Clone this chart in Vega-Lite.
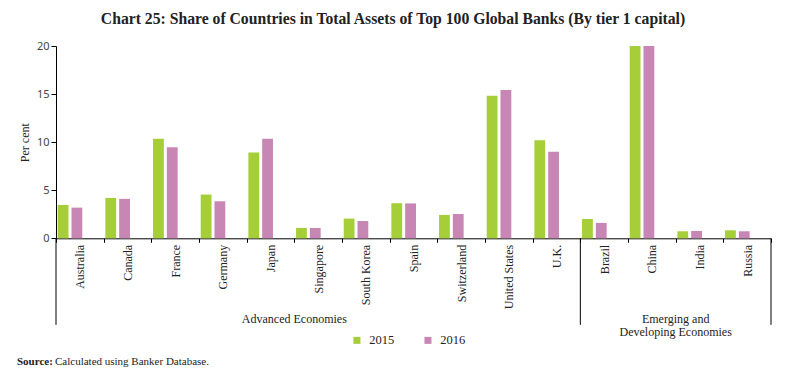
{
  "$schema": "https://vega.github.io/schema/vega-lite/v6.json",
  "width": 774,
  "height": 374,
  "autosize": {"type": "none"},
  "padding": {"left": 6, "top": 5, "right": 1, "bottom": 1},
  "background": "white",
  "config": {
    "view": {"stroke": null},
    "font": "Liberation Serif"
  },
  "title": {
    "text": "Chart 25: Share of Countries in Total Assets of Top 100 Global Banks (By tier 1 capital)",
    "font": "Liberation Serif",
    "fontSize": 15.7,
    "fontWeight": "bold",
    "color": "#222",
    "anchor": "middle",
    "offset": -23
  },
  "layer": [
    {
      "data": {
        "values": [
          {"country": "Australia", "year": "2015", "value": 3.47},
          {"country": "Australia", "year": "2016", "value": 3.19},
          {"country": "Canada", "year": "2015", "value": 4.2},
          {"country": "Canada", "year": "2016", "value": 4.1},
          {"country": "France", "year": "2015", "value": 10.35},
          {"country": "France", "year": "2016", "value": 9.48},
          {"country": "Germany", "year": "2015", "value": 4.55},
          {"country": "Germany", "year": "2016", "value": 3.85},
          {"country": "Japan", "year": "2015", "value": 8.92},
          {"country": "Japan", "year": "2016", "value": 10.35},
          {"country": "Singapore", "year": "2015", "value": 1.08},
          {"country": "Singapore", "year": "2016", "value": 1.08},
          {"country": "South Korea", "year": "2015", "value": 2.05},
          {"country": "South Korea", "year": "2016", "value": 1.8},
          {"country": "Spain", "year": "2015", "value": 3.65},
          {"country": "Spain", "year": "2016", "value": 3.63},
          {"country": "Switzerland", "year": "2015", "value": 2.43},
          {"country": "Switzerland", "year": "2016", "value": 2.53},
          {"country": "United States", "year": "2015", "value": 14.83},
          {"country": "United States", "year": "2016", "value": 15.42},
          {"country": "U.K.", "year": "2015", "value": 10.2},
          {"country": "U.K.", "year": "2016", "value": 9.0},
          {"country": "Brazil", "year": "2015", "value": 2.01},
          {"country": "Brazil", "year": "2016", "value": 1.6},
          {"country": "China", "year": "2015", "value": 20.0},
          {"country": "China", "year": "2016", "value": 20.0},
          {"country": "India", "year": "2015", "value": 0.73},
          {"country": "India", "year": "2016", "value": 0.76},
          {"country": "Russia", "year": "2015", "value": 0.83},
          {"country": "Russia", "year": "2016", "value": 0.73}
        ]
      },
      "mark": {"type": "bar"},
      "encoding": {
        "x": {
          "field": "country",
          "type": "nominal",
          "title": null,
          "scale": {
            "domain": ["Australia", "Canada", "France", "Germany", "Japan", "Singapore", "South Korea", "Spain", "Switzerland", "United States", "U.K.", "Brazil", "China", "India", "Russia"],
            "range": [50, 765],
            "paddingInner": 0,
            "paddingOuter": 0
          },
          "axis": {
            "orient": "bottom",
            "offset": -140.7,
            "labelAngle": -90,
            "labelAlign": "right",
            "labelBaseline": "middle",
            "labelFont": "Liberation Serif",
            "labelFontSize": 12,
            "labelColor": "#222",
            "labelOverlap": false,
            "labelPadding": 2,
            "tickBand": "extent",
            "tickSize": 4,
            "tickColor": "#000",
            "domainColor": "#000",
            "grid": false
          }
        },
        "xOffset": {
          "field": "year",
          "type": "nominal",
          "scale": {"paddingInner": 0.217, "paddingOuter": 0.836, "align": 0.074}
        },
        "y": {
          "field": "value",
          "type": "quantitative",
          "scale": {"domain": [0, 20], "range": [233.3, 41], "nice": false},
          "axis": {
            "title": "Per cent",
            "values": [0, 5, 10, 15, 20],
            "offset": -50,
            "tickSize": 5,
            "labelPadding": 2,
            "labelFont": "Noto Sans",
            "labelFontSize": 11,
            "labelColor": "#444",
            "titleFont": "Liberation Serif",
            "titleFontSize": 12,
            "titleFontWeight": "normal",
            "titleColor": "#222",
            "titlePadding": 5,
            "tickColor": "#000",
            "domainColor": "#000",
            "grid": false
          }
        },
        "color": {
          "field": "year",
          "type": "nominal",
          "scale": {"domain": ["2015", "2016"], "range": ["#a6ce39", "#c886b4"]},
          "legend": {
            "title": null,
            "orient": "none",
            "legendX": 344.7,
            "legendY": 329,
            "direction": "horizontal",
            "symbolType": "square",
            "symbolSize": 49,
            "symbolStrokeWidth": 0,
            "labelFont": "Liberation Serif",
            "labelFontSize": 12.5,
            "labelColor": "#222",
            "labelOffset": 6,
            "columnPadding": 27
          }
        }
      }
    },
    {
      "data": {"values": [{"country": "Australia"}, {"country": "Brazil"}]},
      "mark": {"type": "rule", "color": "#000", "strokeWidth": 1},
      "encoding": {
        "x": {"field": "country", "type": "nominal", "bandPosition": 0, "title": null},
        "y": {"datum": 0, "type": "quantitative", "title": null},
        "y2": {"datum": -9}
      }
    },
    {
      "data": {"values": [{"country": "Russia"}]},
      "mark": {"type": "rule", "color": "#000", "strokeWidth": 1},
      "encoding": {
        "x": {"field": "country", "type": "nominal", "bandPosition": 1, "title": null},
        "y": {"datum": 0, "type": "quantitative", "title": null},
        "y2": {"datum": -9}
      }
    },
    {
      "data": {
        "values": [
          {"country": "Singapore", "label": "Advanced Economies"},
          {"country": "India", "label": "Emerging and\nDeveloping Economies"}
        ]
      },
      "mark": {"type": "text", "lineBreak": "\n", "baseline": "bottom", "align": "center", "font": "Liberation Serif", "fontSize": 12, "lineHeight": 13, "color": "#222"},
      "encoding": {
        "x": {"field": "country", "type": "nominal", "bandPosition": 0, "title": null},
        "y": {"datum": -9.1, "type": "quantitative", "title": null},
        "text": {"field": "label"}
      }
    },
    {
      "data": {"values": [{"country": "Australia"}]},
      "mark": {"type": "text", "text": "Source:", "fontWeight": "bold", "font": "Liberation Serif", "fontSize": 11, "align": "left", "baseline": "alphabetic", "dx": -39, "color": "#222"},
      "encoding": {
        "x": {"field": "country", "type": "nominal", "bandPosition": 0, "title": null},
        "y": {"datum": -13.2, "type": "quantitative", "title": null}
      }
    },
    {
      "data": {"values": [{"country": "Australia"}]},
      "mark": {"type": "text", "text": "Calculated using Banker Database.", "font": "Liberation Serif", "fontSize": 11, "align": "left", "baseline": "alphabetic", "dx": -1, "color": "#222"},
      "encoding": {
        "x": {"field": "country", "type": "nominal", "bandPosition": 0, "title": null},
        "y": {"datum": -13.2, "type": "quantitative", "title": null}
      }
    }
  ]
}
